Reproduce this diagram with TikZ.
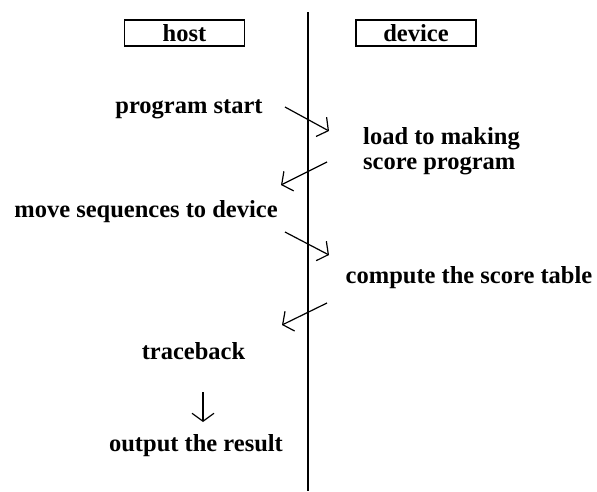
\documentclass[tikz,border=0pt]{standalone}
\usepackage{fontspec}
\setmainfont{Liberation Serif}
\usetikzlibrary{arrows.meta}

\begin{document}
\begin{tikzpicture}[x=1pt,y=-1pt,
		txt/.style={inner sep=0pt,font=\bfseries\fontsize{24.5}{25}\selectfont},
		side/.style={txt,draw,line width=1.4pt,minimum width=120pt,minimum height=26pt},
		flow/.style={-{Straight Barb[length=8pt,width=22pt]},line width=1.2pt}]
				\useasboundingbox (0,0) rectangle (597,491);
				
				% elvalaszto vonal
				\draw[line width=1.8pt] (308,12) -- (308,491);
				
				% fejlecek
				\node[side] (host) at (184.5,33) {host};
				\node[side] (device) at (416,33) {device};
				
				% lepesek
				\node[txt,anchor=base] (start) at (189,113) {program start};
				\node[txt,anchor=west,align=left] (load) at (363,151.5) {load to making\\score program};
				\node[txt,anchor=base] (move) at (146,217) {move sequences to device};
				\node[txt,anchor=base] (compute) at (469,283) {compute the score table};
				\node[txt,anchor=base] (trace) at (193.5,359) {traceback};
				\node[txt,anchor=base] (output) at (196,451) {output the result};
				
				% nyilak vegpontjai
				\coordinate (a1) at (285,107);
				\coordinate (b1) at (329,131);
				\coordinate (a2) at (327,162);
				\coordinate (b2) at (281,185);
				\coordinate (a3) at (285,232);
				\coordinate (b3) at (329,255);
				\coordinate (a4) at (327,303);
				\coordinate (b4) at (282,325);
				\coordinate (a5) at (203,392);
				\coordinate (b5) at (203,422);
				
				%nyilak
				\draw[flow] (a1) -- (b1);
				\draw[flow] (a2) -- (b2);
				\draw[flow] (a3) -- (b3);
				\draw[flow] (a4) -- (b4);
				\draw[flow] (a5) -- (b5);
				
			\end{tikzpicture}
\end{document}
